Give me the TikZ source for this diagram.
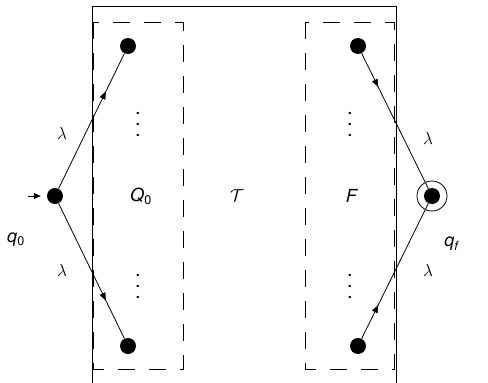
\documentclass[tikz,border=0pt]{standalone}
\usepackage{fontspec}
\newfontfamily\hv{TeX Gyre Heros}
\usetikzlibrary{decorations.markings,arrows.meta}
\newcommand{\myvdots}{\vbox{\baselineskip=11pt\lineskiplimit=-20pt\lineskip=0pt\hbox{.}\hbox{.}\hbox{.}}}
\begin{document}
\begin{tikzpicture}[x=1pt,y=-1pt,
  dot/.style={circle,fill=black,inner sep=0pt,minimum size=16pt},
  box/.style={dash pattern=on 17pt off 14pt,line width=0.8pt},
  edge/.style={line width=0.8pt},
  lab/.style={font=\fontsize{18}{20}\selectfont},
  vd/.style={font=\hv\fontsize{20}{11}\selectfont,inner sep=0pt},
  marka/.style={postaction={decorate,decoration={markings,mark=at position #1 with {\arrow{Triangle[length=8pt,width=6pt]}}}}}
]
\useasboundingbox (0,0) rectangle (488,383);
\draw[line width=0.8pt] (92,383) -- (92,6) -- (396,6) -- (396,383);
\draw[box] (93,22) rectangle (183,369);
\draw[box] (305,22) rectangle (394,369);
\node[dot] (q0) at (55,196) {};
\node[dot] (a) at (128,46) {};
\node[dot] (b) at (128,346) {};
\node[dot] (c) at (358,46) {};
\node[dot] (d) at (358,346) {};
\node[dot] (qf) at (432,196) {};
\node[circle,draw,line width=0.8pt,minimum size=30pt,inner sep=0pt] (qfc) at (qf) {};
\coordinate (init) at (28,196);
\draw[edge,shorten >=6pt,-{Triangle[length=7pt,width=6pt]}] (init) -- (q0.west);
\draw[edge,marka=0.72] (q0) -- (a);
\draw[edge,marka=0.72] (q0) -- (b);
\draw[edge,marka=0.25] (c) -- (qf);
\draw[edge,marka=0.25] (d) -- (qf);
\node[lab] (l1) at (62,133) {$\lambda$};
\node[lab] (l2) at (62,270) {$\lambda$};
\node[lab] (l3) at (428,138) {$\lambda$};
\node[lab] (l4) at (428,270) {$\lambda$};
\node[lab] (Q) at (141,196) {\hv\textit{Q}\textsubscript{0}};
\node[lab] (T) at (237,196) {$\mathcal{T}$};
\node[lab] (F) at (352,196) {\hv\textit{F}};
\node[lab] (q0l) at (16,240) {\hv\textit{q}\textsubscript{0}};
\node[lab] (qfl) at (452,244) {\hv\textit{q}\textsubscript{\textit{f}}};
\node[vd] (v1) at (138,124) {\myvdots};
\node[vd] (v2) at (138,286) {\myvdots};
\node[vd] (v3) at (350,124) {\myvdots};
\node[vd] (v4) at (350,286) {\myvdots};
\end{tikzpicture}
\end{document}
